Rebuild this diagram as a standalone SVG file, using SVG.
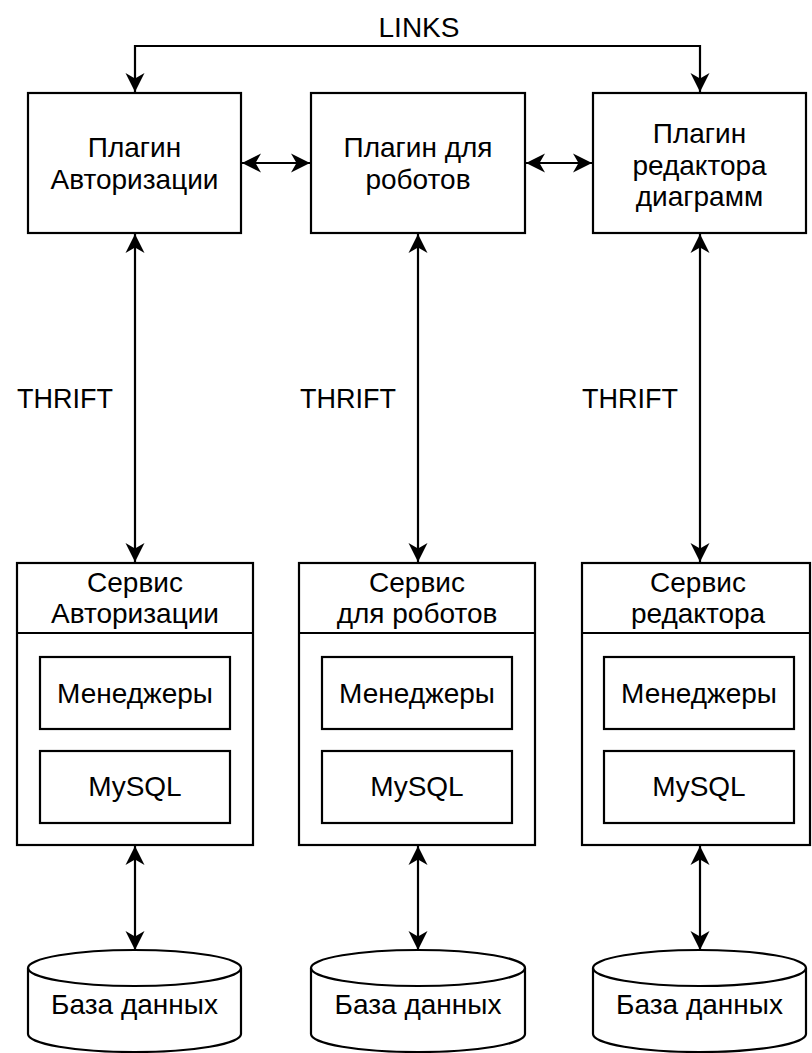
<svg xmlns="http://www.w3.org/2000/svg" width="812" height="1053" viewBox="0 0 812 1053">
<style>
.box{fill:#fff;stroke:#000;stroke-width:2.2}
.ln{fill:none;stroke:#000;stroke-width:2.2}
text{font-family:"Liberation Sans",Arial,sans-serif;font-size:28px;fill:#000;text-anchor:middle}
.t{font-size:27px}
</style>
<defs>
<marker id="ah" viewBox="0 0 20 20" markerWidth="20" markerHeight="20" markerUnits="userSpaceOnUse" refX="19" refY="10" orient="auto-start-reverse">
<path d="M0,0.5 L19,10 L0,19.5 L5.5,10 Z" fill="#000"/>
</marker>
</defs>
<rect width="812" height="1053" fill="#fff"/>

<g id="connectors">
<path class="ln" d="M135,92 L135,46 L700,46 L700,92" marker-start="url(#ah)" marker-end="url(#ah)"/>
<path class="ln" d="M242,163 L310,163" marker-start="url(#ah)" marker-end="url(#ah)"/>
<path class="ln" d="M526,163 L592,163" marker-start="url(#ah)" marker-end="url(#ah)"/>
<path class="ln" d="M135,234 L135,562" marker-start="url(#ah)" marker-end="url(#ah)"/>
<path class="ln" d="M418,234 L418,562" marker-start="url(#ah)" marker-end="url(#ah)"/>
<path class="ln" d="M700,234 L700,562" marker-start="url(#ah)" marker-end="url(#ah)"/>
<path class="ln" d="M135,846 L135,950" marker-start="url(#ah)" marker-end="url(#ah)"/>
<path class="ln" d="M418,846 L418,950" marker-start="url(#ah)" marker-end="url(#ah)"/>
<path class="ln" d="M700,846 L700,950" marker-start="url(#ah)" marker-end="url(#ah)"/>
<text x="419" y="37">LINKS</text>
<text class="t" x="65" y="408">THRIFT</text>
<text class="t" x="348" y="408">THRIFT</text>
<text class="t" x="630" y="408">THRIFT</text>
</g>

<g id="plugin-auth">
<rect class="box" x="28" y="93" width="213" height="140"/>
<text x="134.5" y="157">Плагин</text>
<text x="134.5" y="189">Авторизации</text>
</g>
<g id="plugin-robots">
<rect class="box" x="311" y="93" width="214" height="140"/>
<text x="418" y="157">Плагин для</text>
<text x="418" y="189">роботов</text>
</g>
<g id="plugin-editor">
<rect class="box" x="593" y="93" width="213" height="140"/>
<text x="699.5" y="143">Плагин</text>
<text x="699.5" y="174.5">редактора</text>
<text x="699.5" y="206">диаграмм</text>
</g>

<g id="service-auth">
<rect class="box" x="17" y="563" width="236" height="282"/>
<line class="ln" x1="17" y1="633" x2="253" y2="633"/>
<text x="135" y="592">Сервис</text>
<text x="135" y="623">Авторизации</text>
<g id="auth-managers"><rect class="box" x="40" y="657" width="190" height="72"/><text x="135" y="703">Менеджеры</text></g>
<g id="auth-mysql"><rect class="box" x="40" y="751" width="190" height="72"/><text x="135" y="796">MySQL</text></g>
</g>
<g id="service-robots">
<rect class="box" x="299" y="563" width="236" height="282"/>
<line class="ln" x1="299" y1="633" x2="535" y2="633"/>
<text x="417" y="592">Сервис</text>
<text x="417" y="623">для роботов</text>
<g id="robots-managers"><rect class="box" x="322" y="657" width="190" height="72"/><text x="417" y="703">Менеджеры</text></g>
<g id="robots-mysql"><rect class="box" x="322" y="751" width="190" height="72"/><text x="417" y="796">MySQL</text></g>
</g>
<g id="service-editor">
<rect class="box" x="582" y="563" width="228" height="282"/>
<line class="ln" x1="582" y1="633" x2="810" y2="633"/>
<text x="698" y="592">Сервис</text>
<text x="698" y="623">редактора</text>
<g id="editor-managers"><rect class="box" x="604" y="657" width="190" height="72"/><text x="699" y="703">Менеджеры</text></g>
<g id="editor-mysql"><rect class="box" x="604" y="751" width="190" height="72"/><text x="699" y="796">MySQL</text></g>
</g>

<g id="db-auth">
<path class="box" d="M28,968 A106.5,18 0 0 1 241,968 L241,1034 A106.5,18 0 0 1 28,1034 Z"/>
<path class="ln" d="M28,968 A106.5,18 0 0 0 241,968"/>
<text x="134.5" y="1014">База данных</text>
</g>
<g id="db-robots">
<path class="box" d="M311,968 A107,18 0 0 1 525,968 L525,1034 A107,18 0 0 1 311,1034 Z"/>
<path class="ln" d="M311,968 A107,18 0 0 0 525,968"/>
<text x="418" y="1014">База данных</text>
</g>
<g id="db-editor">
<path class="box" d="M593,968 A106.5,18 0 0 1 806,968 L806,1034 A106.5,18 0 0 1 593,1034 Z"/>
<path class="ln" d="M593,968 A106.5,18 0 0 0 806,968"/>
<text x="699.5" y="1014">База данных</text>
</g>
</svg>
